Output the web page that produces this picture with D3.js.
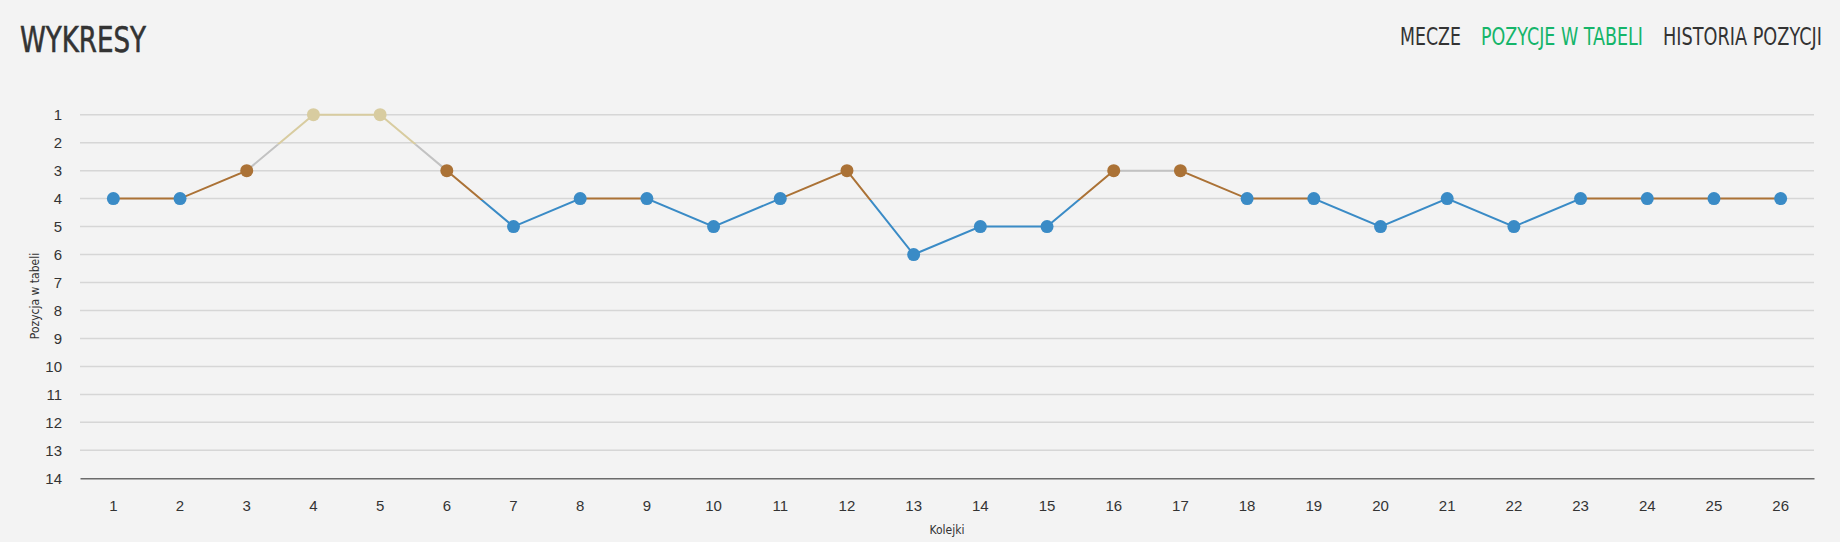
<!DOCTYPE html>
<html>
<head>
<meta charset="utf-8">
<script src="https://cdn.jsdelivr.net/npm/d3@7"></script>
<style>
  html, body { margin: 0; padding: 0; background: #f3f3f3; }
  svg { display: block; font-family: "DejaVu Sans Condensed", "DejaVu Sans", sans-serif; font-stretch: condensed; }
</style>
</head>
<body>
<div id="chart"></div>
<script>
// rounds (kolejki) and table position after each round
var rounds = d3.range(1, 27);
var positions = [4, 4, 3, 1, 1, 3, 5, 4, 4, 5, 4, 3, 6, 5, 5, 3, 3, 4, 4, 5, 4, 5, 4, 4, 4, 4];
var yTicks = d3.range(1, 15);
var navItems = ["MECZE", "POZYCJE W TABELI", "HISTORIA POZYCJI"];

// zones: thresholds and colours (like highcharts zones)
var zoneLimits = [2, 3, 4];
var zoneColors = ["#d8cca0", "#c2c2c2", "#ab7236", "#3a8bc6"];

var W = 1840, H = 542;
var svg = d3.select("#chart").append("svg")
    .attr("width", W)
    .attr("height", H);

svg.append("rect").attr("width", W).attr("height", H).attr("fill", "#f3f3f3");

// squeeze a text horizontally so it fits the given width
function fitText(sel, x0, y0, target) {
    var w = sel.node().getComputedTextLength();
    sel.attr("transform", `translate(${x0},${y0}) scale(${target / w},1)`);
}

// header
var title = svg.append("text")
    .attr("fill", "#333")
    .attr("stroke", "#333")
    .attr("stroke-width", 0.6)
    .style("font-size", "36px")
    .text("WYKRESY");
fitText(title, 20, 52, 126);

var navX = [1400, 1481, 1663], navW = [61, 162, 159];
svg.selectAll(".nav")
    .data(navItems)
    .enter().append("text")
    .attr("class", "nav")
    .attr("fill", (d, i) => i === 1 ? "#15b56a" : "#333")
    .style("font-size", "25px")
    .text(d => d)
    .each(function(d, i) { fitText(d3.select(this), navX[i], 45, navW[i]); });

// scales
var x = d3.scaleBand()
    .domain(rounds)
    .range([80, 1814]);

var y = d3.scaleLinear()
    .domain([1, 14])
    .range([114.7, 478.3]);

var cx = d => x(d) + x.bandwidth() / 2;

// grid
svg.append("g")
    .selectAll("line")
    .data(yTicks.slice(0, -1))
    .enter().append("line")
    .attr("x1", 80).attr("x2", 1814)
    .attr("y1", d => y(d)).attr("y2", d => y(d))
    .attr("stroke", "#d6d6d6")
    .attr("stroke-width", 1.5);

// y axis labels
var yAxis = svg.append("g")
    .attr("transform", "translate(62,0)")
    .call(d3.axisLeft(y).tickValues(yTicks).tickSize(0).tickPadding(0));
yAxis.select(".domain").remove();
yAxis.selectAll("text")
    .attr("fill", "#333")
    .style("font-size", "15px")
    .style("font-family", null);

// x axis
var xAxis = svg.append("g")
    .attr("transform", `translate(0, ${y(14)})`)
    .call(d3.axisBottom(x).tickSize(0).tickPadding(22));
xAxis.select(".domain")
    .attr("stroke", "#6b6b6b")
    .attr("stroke-width", 1.5);
xAxis.selectAll("text")
    .attr("fill", "#333")
    .style("font-size", "15px")
    .style("font-family", null);

// axis titles
svg.append("text")
    .attr("x", cx(13) + x.bandwidth() / 2).attr("y", 534)
    .attr("text-anchor", "middle")
    .attr("fill", "#333")
    .style("font-size", "12px")
    .text("Kolejki");

svg.append("text")
    .attr("transform", "translate(39, 296) rotate(-90)")
    .attr("text-anchor", "middle")
    .attr("fill", "#333")
    .style("font-size", "12px")
    .text("Pozycja w tabeli");

// clip bands for each zone
var bounds = [0].concat(zoneLimits.map(v => y(v) + 1.5)).concat([H]);
var defs = svg.append("defs");
zoneColors.forEach(function(c, i) {
    defs.append("clipPath")
        .attr("id", "zone" + i)
        .append("rect")
        .attr("x", 0).attr("width", W)
        .attr("y", bounds[i])
        .attr("height", bounds[i + 1] - bounds[i]);
});

var data = rounds.map((r, i) => ({round: r, pos: positions[i]}));

var line = d3.line()
    .x(d => cx(d.round))
    .y(d => y(d.pos));

zoneColors.forEach(function(c, i) {
    svg.append("path")
        .datum(data)
        .attr("fill", "none")
        .attr("stroke", c)
        .attr("stroke-width", 2)
        .attr("clip-path", `url(#zone${i})`)
        .attr("d", line);
});

// markers: colour by zone (value below limit)
function zoneColor(v) {
    for (let i = 0; i < zoneLimits.length; i++) {
        if (v < zoneLimits[i]) return zoneColors[i];
    }
    return zoneColors[zoneColors.length - 1];
}

svg.append("g")
    .selectAll("circle")
    .data(data)
    .enter().append("circle")
    .attr("cx", d => cx(d.round))
    .attr("cy", d => y(d.pos))
    .attr("r", 6.5)
    .attr("fill", d => zoneColor(d.pos));
</script>
</body>
</html>
